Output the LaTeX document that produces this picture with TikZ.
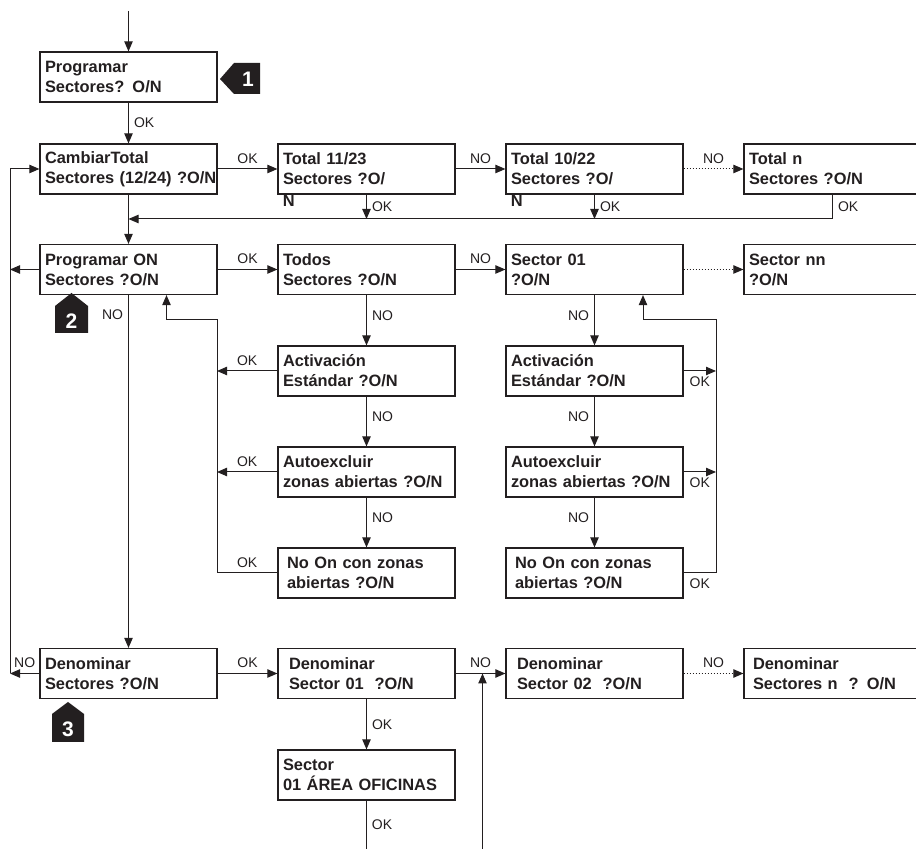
\documentclass[tikz,border=0pt]{standalone}
\usepackage{fontspec}
\setmainfont{Liberation Sans}[WordSpace=0.55]
\usetikzlibrary{arrows.meta, calc}
\definecolor{tinta}{RGB}{35,31,32}

\tikzset{
  pantalla/.style={draw, line width=0.6pt, minimum width=88.5pt, minimum height=25pt,
    inner xsep=2.5pt, inner ysep=0pt, text width=83.5pt, align=left,
    font=\bfseries\fontsize{8.2}{10}\selectfont},
  resto/.style={anchor=north west, inner sep=0pt, xshift=2.5pt, font=\bfseries\fontsize{8.2}{10}\selectfont},
  etq/.style={font=\fontsize{7}{8}\selectfont, inner sep=2.5pt},
  flecha/.style={-{Triangle[length=5pt,width=4.2pt]}, line width=0.5pt},
  marca/.style={fill=tinta},
  numero/.style={text=white, font=\bfseries\fontsize{10.5}{12}\selectfont, inner sep=0pt}
}

\begin{document}
\begin{tikzpicture}[x=0.5pt, y=-0.5pt, color=tinta]
    \useasboundingbox (0,0) rectangle (916,849);
    \clip (0,0) rectangle (916,849);
    %pantallas
    \node[pantalla] at (128.5,77) (prog){Programar\\Sectores? O/N};
    \node[pantalla] at (128.5,169) (cambiar){CambiarTotal\\Sectores~(12/24)~?O/N};
    \node[pantalla, label={[resto]south west:N}] at (366.5,169) (total1){Total 11/23\\Sectores ?O/};
    \node[pantalla, label={[resto]south west:N}] at (594.5,169) (total2){Total 10/22\\Sectores ?O/};
    \node[pantalla] at (832.5,169) (totaln){Total n\\Sectores ?O/N};
    \node[pantalla] at (128.5,269.5) (progon){Programar ON\\Sectores ?O/N};
    \node[pantalla] at (366.5,269.5) (todos){Todos\\Sectores ?O/N};
    \node[pantalla] at (594.5,269.5) (sec01){Sector 01\\?O/N};
    \node[pantalla] at (832.5,269.5) (secnn){Sector nn\\?O/N};
    \node[pantalla] at (366.5,371) (act1){Activación\\Estándar ?O/N};
    \node[pantalla] at (594.5,371) (act2){Activación\\Estándar ?O/N};
    \node[pantalla] at (366.5,472) (auto1){Autoexcluir\\zonas abiertas ?O/N};
    \node[pantalla] at (594.5,472) (auto2){Autoexcluir\\zonas abiertas ?O/N};
    \node[pantalla] at (366.5,573) (noon1){\hspace*{2pt}No On con zonas\\\hspace*{2pt}abiertas ?O/N};
    \node[pantalla] at (594.5,573) (noon2){\hspace*{2pt}No On con zonas\\\hspace*{2pt}abiertas ?O/N};
    \node[pantalla] at (128.5,673.5) (denom){Denominar\\Sectores ?O/N};
    \node[pantalla] at (366.5,673.5) (den01){\hspace*{3pt}Denominar\\\hspace*{3pt}Sector 01 \ ?O/N};
    \node[pantalla] at (594.5,673.5) (den02){\hspace*{3pt}Denominar\\\hspace*{3pt}Sector 02 \ ?O/N};
    \node[pantalla] at (832.5,673.5) (denn){\hspace*{2pt}Denominar\\\hspace*{2pt}Sectores n \ ? O/N};
    \node[pantalla] at (366.5,775) (nombre){Sector\\01 ÁREA OFICINAS};

    %marcas
    \fill[marca] (220,79) -- (234,63) -- (260,63) -- (260,94) -- (234,94) -- cycle;
    \node[numero] at (248,79) (m1){1};
    \fill[marca] (71.5,293) -- (88,306) -- (88,333) -- (55,333) -- (55,306) -- cycle;
    \node[numero] at (71.5,321) (m2){2};
    \fill[marca] (68,702) -- (84,714) -- (84,742) -- (52,742) -- (52,714) -- cycle;
    \node[numero] at (68,729) (m3){3};

    \coordinate (inicio) at (128.5,11);
    \coordinate (bus) at (128.5,219);
    \coordinate (izq) at (10,673.5);
    \coordinate (retA) at (217,320);
    \coordinate (retB) at (716,320);
    \coordinate (abajo) at (482.5,849);
    \coordinate (fin) at (366.5,849);

    \draw[flecha] (inicio) -- (prog);
    \draw[flecha] (prog) -- node[etq, right]{OK} (cambiar);
    \draw[flecha] (cambiar) -- node[etq, above]{OK} (total1);
    \draw[flecha] (total1) -- node[etq, above]{NO} (total2);
    \draw[flecha, densely dotted] (total2) -- node[etq, above]{NO} (totaln);
    \draw[flecha] (total1) -- node[etq, right]{OK} (total1 |- bus);
    \draw[flecha] (total2) -- node[etq, right]{OK} (total2 |- bus);
    \draw[flecha] (totaln) |- node[etq, right, pos=0.25]{OK} (bus);
    \draw[flecha] (cambiar) -- (progon);

    \draw[flecha] (progon.west) -- (progon.west -| izq);
    \draw[flecha] (denom.west) -- node[etq, above]{NO} (izq);
    \draw[flecha] (izq) |- (cambiar.west);

    \draw[flecha] (progon) -- node[etq, above]{OK} (todos);
    \draw[flecha] (todos) -- node[etq, above]{NO} (sec01);
    \draw[flecha, densely dotted] (sec01) -- (secnn);
    \draw[flecha] (progon) -- node[etq, left, pos=0.055]{NO} (denom);

    \draw[flecha] (todos) -- node[etq, right, pos=0.4]{NO} (act1);
    \draw[flecha] (act1) -- node[etq, right, pos=0.4]{NO} (auto1);
    \draw[flecha] (auto1) -- node[etq, right, pos=0.4]{NO} (noon1);
    \draw[flecha] (act1.west) -- node[etq, above]{OK} (act1.west -| retA);
    \draw[flecha] (auto1.west) -- node[etq, above]{OK} (auto1.west -| retA);
    \draw[flecha] (noon1.west) -| node[etq, above, pos=0.25]{OK} (retA) -| ($(progon.south)+(38,0)$);

    \draw[flecha] (sec01) -- node[etq, left, pos=0.4]{NO} (act2);
    \draw[flecha] (act2) -- node[etq, left, pos=0.4]{NO} (auto2);
    \draw[flecha] (auto2) -- node[etq, left, pos=0.4]{NO} (noon2);
    \draw[flecha] (act2.east) -- node[etq, below]{OK} (act2.east -| retB);
    \draw[flecha] (auto2.east) -- node[etq, below]{OK} (auto2.east -| retB);
    \draw[flecha] (noon2.east) -| node[etq, below, pos=0.25]{OK} (retB) -| ($(sec01.south)+(48.5,0)$);

    \draw[flecha] (denom) -- node[etq, above]{OK} (den01);
    \draw[flecha] (den01) -- node[etq, above]{NO} (den02);
    \draw[flecha, densely dotted] (den02) -- node[etq, above]{NO} (denn);
    \draw[flecha] (abajo) -- (abajo |- den01.east);
    \draw[flecha] (den01) -- node[etq, right]{OK} (nombre);
    \draw (nombre) -- node[etq, right]{OK} (fin);
\end{tikzpicture}
\end{document}
